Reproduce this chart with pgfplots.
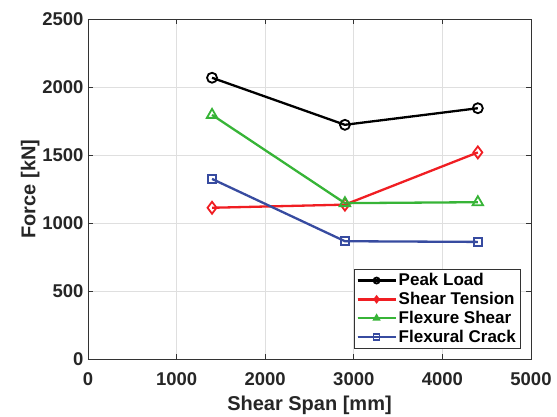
\documentclass[border=0pt]{standalone}
\usepackage{fontspec}
\setmainfont{Liberation Sans}
\usepackage{pgfplots}
\pgfplotsset{compat=1.18}
\definecolor{cred}{RGB}{240,30,35}
\definecolor{cgreen}{RGB}{55,180,55}
\definecolor{cblue}{RGB}{55,75,160}
\begin{document}
\begin{tikzpicture}
\begin{axis}[
  scale only axis,
  width=443pt, height=340pt,
  xmin=0, xmax=5000, ymin=0, ymax=2500,
  xtick={0,1000,2000,3000,4000,5000},
  ytick={0,500,1000,1500,2000,2500},
  /pgf/number format/assume math mode=true,
  /pgf/number format/1000 sep={},
  tick label style={font=\fontsize{18.5}{20}\selectfont\bfseries, text=black!85},
  xticklabel style={yshift=-10pt},
  yticklabel style={xshift=-1pt},
  xlabel={Shear Span [mm]}, ylabel={Force [kN]},
  label style={font=\fontsize{20}{22}\selectfont\bfseries, text=black!85},
  xlabel shift=3pt, ylabel shift=-4pt,
  grid=major, major grid style={gray!25, line width=0.7pt},
  tick align=inside, major tick length=5pt,
  axis line style={black!80, line width=0.9pt},
  every tick/.style={black!80, line width=0.9pt},
  legend style={at={(0.977,0.03)}, anchor=south east, font=\fontsize{17}{19}\selectfont\bfseries, draw=black!80, line width=0.8pt, inner sep=2.5pt, row sep=1pt},
  legend cell align=left,
  legend image code/.code={\draw[#1] (0pt,0pt) -- (38pt,0pt); \draw[#1, mark repeat=2, mark phase=2, mark size=3pt] plot coordinates {(0pt,0pt) (19pt,0pt) (38pt,0pt)};},
]
\addplot[black, line width=2.3pt, mark=o, mark size=5pt, mark options={line width=1.8pt}] coordinates {(1400,2068) (2900,1722) (4400,1844)};
\addlegendentry{Peak Load}
\addplot[cred, line width=2.3pt, mark=diamond, mark size=6pt, mark options={line width=1.8pt}] coordinates {(1400,1112) (2900,1135) (4400,1519)};
\addlegendentry{Shear Tension}
\addplot[cgreen, line width=2.3pt, mark=triangle, mark size=6pt, mark options={line width=1.8pt}] coordinates {(1400,1795) (2900,1146) (4400,1153)};
\addlegendentry{Flexure Shear}
\addplot[cblue, line width=2.3pt, mark=square, mark size=4pt, mark options={line width=1.8pt}] coordinates {(1400,1324) (2900,866) (4400,861)};
\addlegendentry{Flexural Crack}
\end{axis}
\pgfresetboundingbox
\path (current axis.south west) ++(-88pt,-57pt) rectangle ++(557pt,416pt);
\end{tikzpicture}
\end{document}
